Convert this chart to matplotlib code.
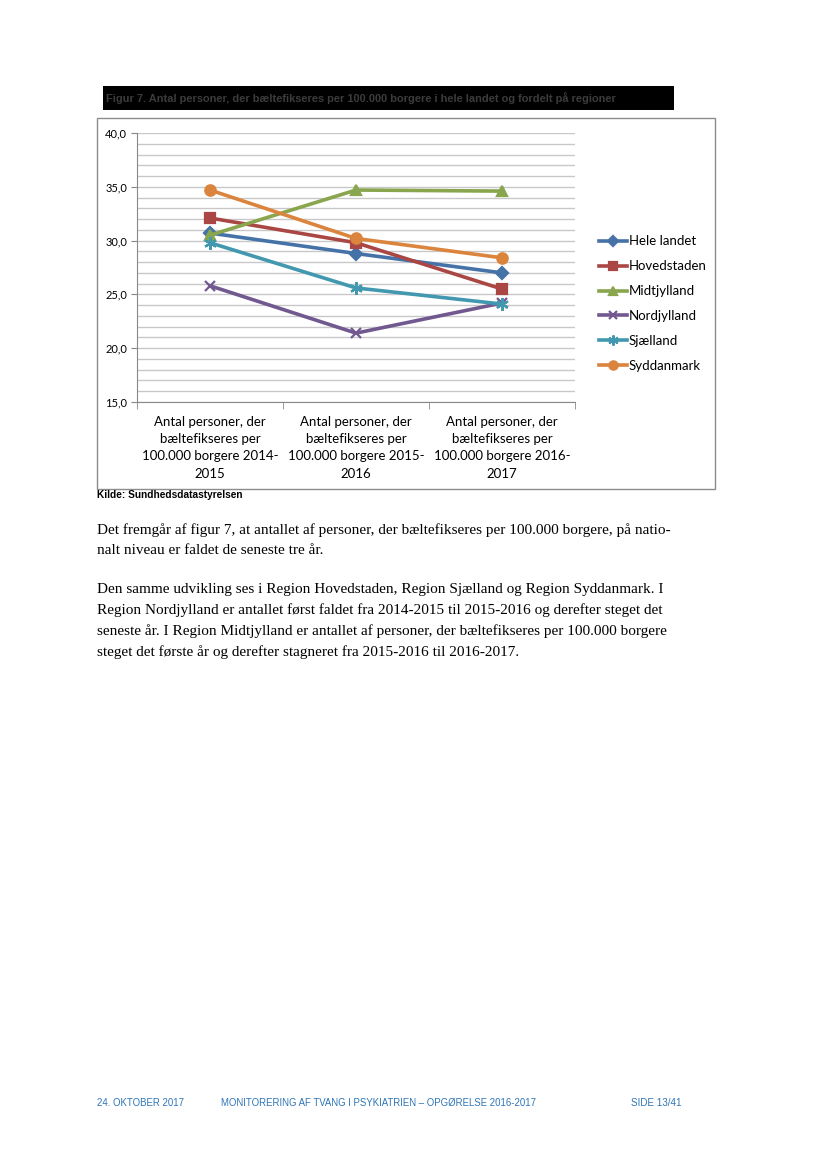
import matplotlib
matplotlib.use("Agg")
import matplotlib.pyplot as plt
from matplotlib.patches import Rectangle
from matplotlib.ticker import FuncFormatter, MultipleLocator

W, H = 827, 1169

# data
perioder = ["Antal personer, der\nbæltefikseres per\n100.000 borgere 2014-\n2015",
            "Antal personer, der\nbæltefikseres per\n100.000 borgere 2015-\n2016",
            "Antal personer, der\nbæltefikseres per\n100.000 borgere 2016-\n2017"]
hele_landet = [30.7, 28.8, 27.0]
hovedstaden = [32.1, 29.8, 25.5]
midtjylland = [30.5, 34.7, 34.6]
nordjylland = [25.8, 21.4, 24.2]
sjaelland = [29.8, 25.6, 24.1]
syddanmark = [34.7, 30.2, 28.4]

serier = [
    ("Hele landet", hele_landet, "#4572A7", "D", 6),
    ("Hovedstaden", hovedstaden, "#AA4643", "s", 7),
    ("Midtjylland", midtjylland, "#89A54E", "^", 7.5),
    ("Nordjylland", nordjylland, "#71588F", "x", 7.5),
    ("Sjælland", sjaelland, "#4198AF", (6, 2, 0), 9),
    ("Syddanmark", syddanmark, "#DB843D", "o", 7.5),
]


def fx(x):
    return x / W


def fy(y):
    return 1 - y / H


fig = plt.figure(figsize=(W / 100, H / 100), dpi=100)

# titel-bjaelke
fig.patches.append(Rectangle((fx(103), fy(110)), (674 - 103) / W, 24 / H,
                             transform=fig.transFigure, facecolor="black", edgecolor="none"))
fig.text(fx(106), fy(98), "Figur 7. Antal personer, der bæltefikseres per 100.000 borgere i hele landet og fordelt på regioner",
         color="#3c3c3c", fontsize=7.95, fontweight="bold", family="Liberation Sans", va="center")

# ramme om diagrammet
fig.patches.append(Rectangle((fx(97), fy(489)), (715 - 97) / W, (489 - 118) / H,
                             transform=fig.transFigure, facecolor="none", edgecolor="#8c8c8c", lw=1))

ax = fig.add_axes([fx(137), fy(402), (575 - 137) / W, (402 - 133) / H])
x = list(range(len(perioder)))
for navn, vals, farve, mk, ms in serier:
    ax.plot(x, vals, color=farve, lw=2.6, marker=mk, ms=ms, mew=1.6,
            mec=farve, mfc=farve, label=navn, zorder=3)

ax.set_xlim(-0.5, 2.5)
ax.set_ylim(15, 40)
ax.yaxis.set_major_locator(MultipleLocator(5))
ax.yaxis.set_minor_locator(MultipleLocator(1))
ax.yaxis.set_major_formatter(FuncFormatter(lambda v, p: f"{v:.1f}".replace(".", ",")))
ax.grid(True, which="both", axis="y", color="#c8c8c8", lw=1)
ax.set_axisbelow(True)
for s in ["top", "right"]:
    ax.spines[s].set_visible(False)
ax.spines["left"].set_color("#888888")
ax.spines["bottom"].set_color("#888888")
ax.tick_params(axis="y", which="major", length=4, color="#888888", labelsize=8, pad=3)
ax.tick_params(axis="y", which="minor", length=0)
ax.set_xticks([-0.5, 0.5, 1.5, 2.5], minor=True)
ax.set_xticks(x)
ax.set_xticklabels(perioder, fontsize=9.5, family="Lato", linespacing=1.53)
ax.tick_params(axis="x", which="major", length=0, pad=10)
ax.tick_params(axis="x", which="minor", length=5, color="#888888")
for t in ax.get_yticklabels():
    t.set_family("Lato")

fig.legend(loc="upper left", bbox_to_anchor=(fx(594), fy(230)), frameon=False,
           prop={"family": "Lato", "size": 9.5}, handlelength=2.1, handletextpad=0.15,
           labelspacing=0.98, borderaxespad=0, markerscale=0.8)

fig.text(fx(97), fy(495), "Kilde: Sundhedsdatastyrelsen", fontsize=7.3, fontweight="bold",
         family="Liberation Sans", va="center")

brod = [
    (530, "Det fremgår af figur 7, at antallet af personer, der bæltefikseres per 100.000 borgere, på natio-"),
    (550, "nalt niveau er faldet de seneste tre år."),
    (590, "Den samme udvikling ses i Region Hovedstaden, Region Sjælland og Region Syddanmark. I"),
    (610, "Region Nordjylland er antallet først faldet fra 2014-2015 til 2015-2016 og derefter steget det"),
    (631, "seneste år. I Region Midtjylland er antallet af personer, der bæltefikseres per 100.000 borgere"),
    (652, "steget det første år og derefter stagneret fra 2015-2016 til 2016-2017."),
]
for yy, linje in brod:
    fig.text(fx(97), fy(yy), linje, fontsize=11.0, family="Liberation Serif", va="center")

blaa = "#2e75b6"
fig.text(fx(97), fy(1103), "24. OKTOBER 2017", fontsize=6.9, color=blaa, family="Liberation Sans", va="center")
fig.text(fx(221), fy(1103), "MONITORERING AF TVANG I PSYKIATRIEN – OPGØRELSE 2016-2017", fontsize=6.9,
         color=blaa, family="Liberation Sans", va="center")
fig.text(fx(631), fy(1103), "SIDE 13/41", fontsize=7.1, color=blaa, family="Liberation Sans", va="center")

fig.savefig("out.png", dpi=100)
